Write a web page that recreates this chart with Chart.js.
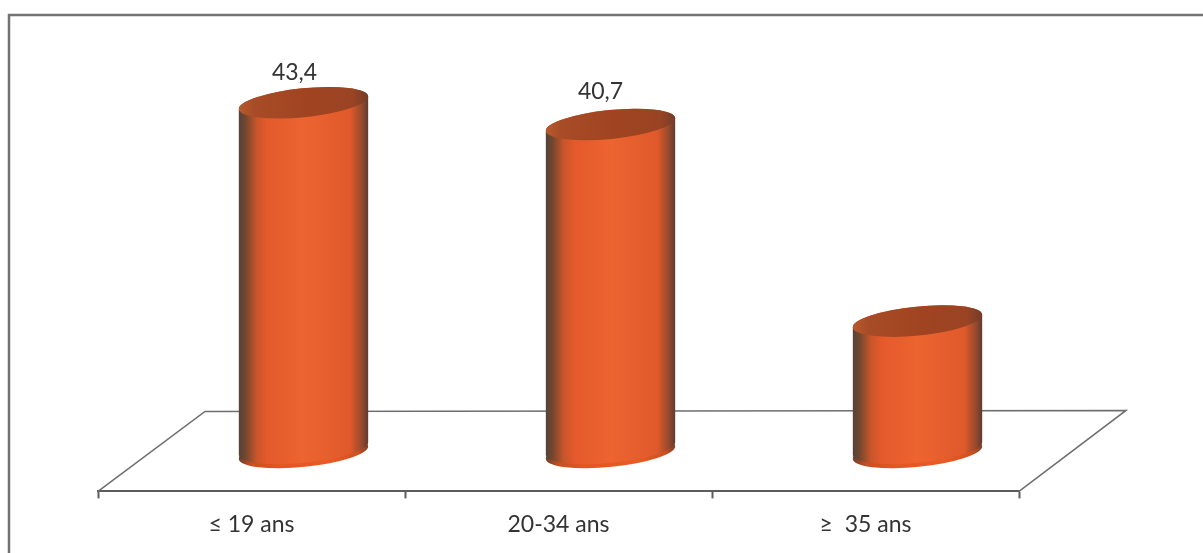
<!DOCTYPE html>
<html lang="fr">
<head>
    <meta charset="UTF-8">
    <title>Répartition par âge</title>
    <script src="https://cdn.jsdelivr.net/npm/chart.js"></script>
    <style>
        body { margin: 0; background-color: #fff; }
        canvas { display: block; }
    </style>
</head>
<body>
    <canvas id="ageChart" width="1203" height="553"></canvas>

    <script>
        const categories = ['≤ 19 ans', '20-34 ans', '≥  35 ans'];
        const values = [43.4, 40.7, 16.3];
        const showValue = [true, true, false];

        // 3D look: the floor recedes up and to the right, bars stand in the middle of it
        const floorShiftX = 107, floorShiftY = 80;
        const barShiftX = 52;
        const barWidth = 130, capRadiusY = 14.5, capTilt = -0.1;
        const valueOffsetX = [-9, -10, 0], valueOffsetY = [-30, -33, 0];

        function hGradient(ctx, x, stops) {
            const g = ctx.createLinearGradient(x - barWidth / 2, 0, x + barWidth / 2, 0);
            stops.forEach(s => g.addColorStop(s[0], s[1]));
            return g;
        }

        const bodyStops = [[0, '#54423a'], [0.05, '#70462f'], [0.14, '#c8552a'], [0.22, '#e45a2c'], [0.5, '#ec6430'],
                           [0.86, '#e0592b'], [0.95, '#94492e'], [1, '#5a3b32']];
        const baseStops = [[0, '#6a3f2a'], [0.1, '#c84e20'], [0.3, '#e4551f'], [0.7, '#ea5a25'],
                           [0.92, '#d05020'], [1, '#7a4028']];
        const capStops = [[0, '#b85a2c'], [0.12, '#a84c28'], [0.55, '#a04320'], [0.88, '#9a4424'], [1, '#743c28']];

        function capEllipse(ctx, x, y, stops) {
            ctx.beginPath();
            ctx.ellipse(x, y, barWidth / 2, capRadiusY, capTilt, 0, Math.PI * 2);
            ctx.fillStyle = hGradient(ctx, x, stops);
            ctx.fill();
        }

        // side wall: over the top of the upper ellipse, back under the lower one
        function cylinderBody(ctx, x, top, bottom) {
            ctx.beginPath();
            ctx.ellipse(x, top, barWidth / 2, capRadiusY, capTilt, Math.PI, Math.PI * 2);
            ctx.ellipse(x, bottom, barWidth / 2, capRadiusY, capTilt, 0, Math.PI);
            ctx.closePath();
            ctx.fillStyle = hGradient(ctx, x, bodyStops);
            ctx.fill();
        }

        const cylinderPlugin = {
            id: 'cylinders',
            beforeDraw(chart) {
                const ctx = chart.ctx;
                ctx.save();
                ctx.fillStyle = '#fff';
                ctx.fillRect(0, 0, chart.width, chart.height);
                // frame only shows on the top and left
                ctx.strokeStyle = '#737373';
                ctx.lineWidth = 2.5;
                ctx.beginPath();
                ctx.moveTo(9, chart.height);
                ctx.lineTo(9, 15);
                ctx.lineTo(chart.width, 15);
                ctx.stroke();
                ctx.restore();
            },
            beforeDatasetsDraw(chart) {
                const ctx = chart.ctx, a = chart.chartArea;
                ctx.save();
                ctx.strokeStyle = '#6e6e6e';
                ctx.lineWidth = 1.5;
                ctx.beginPath();
                ctx.moveTo(a.left, a.bottom);
                ctx.lineTo(a.left + floorShiftX, a.bottom - floorShiftY);
                ctx.lineTo(a.right + floorShiftX, a.bottom - floorShiftY - 1);
                ctx.lineTo(a.right, a.bottom);
                ctx.stroke();
                ctx.restore();
            },
            afterDatasetsDraw(chart) {
                const ctx = chart.ctx;
                const bars = chart.getDatasetMeta(0).data;
                ctx.save();
                ctx.translate(barShiftX, 0);
                bars.forEach(bar => {
                    capEllipse(ctx, bar.x, bar.base, baseStops);
                    cylinderBody(ctx, bar.x, bar.y, bar.base - 4);
                    capEllipse(ctx, bar.x, bar.y, capStops);
                });
                ctx.restore();

                ctx.save();
                ctx.font = '23px Lato';
                ctx.fillStyle = '#333';
                ctx.textAlign = 'center';
                ctx.textBaseline = 'middle';
                bars.forEach((bar, i) => {
                    if (!showValue[i]) return;
                    const text = values[i].toLocaleString('fr-FR');
                    ctx.fillText(text, bar.x + barShiftX + valueOffsetX[i], bar.y + valueOffsetY[i]);
                });
                ctx.restore();
            }
        };

        new Chart(document.getElementById('ageChart'), {
            type: 'bar',
            data: {
                labels: categories,
                datasets: [{
                    data: values,
                    barThickness: barWidth,
                    backgroundColor: 'transparent'
                }]
            },
            plugins: [cylinderPlugin],
            options: {
                responsive: false,
                animation: false,
                layout: { padding: { left: 98, right: 184, top: 15, bottom: 3 } },
                plugins: { legend: { display: false }, tooltip: { enabled: false } },
                scales: {
                    x: {
                        offset: true,
                        border: { color: '#5c5c5c', width: 2 },
                        grid: { offset: true, drawOnChartArea: false, drawTicks: true, tickLength: 7, color: '#5c5c5c', tickWidth: 2 },
                        ticks: { color: '#333', font: { family: 'Lato', size: 23 }, padding: 12, maxRotation: 0 }
                    },
                    y: { display: false, min: -4.84, max: 54.29 }
                }
            }
        });
    </script>
</body>
</html>
